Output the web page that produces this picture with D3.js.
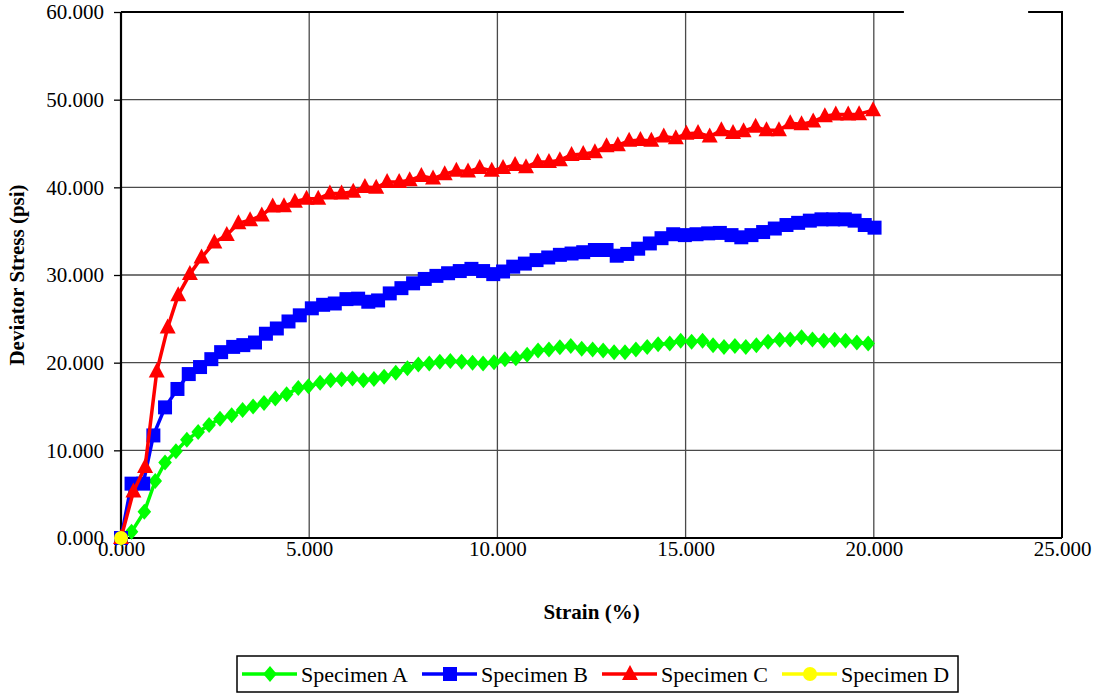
<!DOCTYPE html>
<html>
<head>
<meta charset="utf-8">
<script src="https://cdn.jsdelivr.net/npm/d3@7"></script>
<style>
  body { margin: 0; background: #fff; }
  text { font-family: "Liberation Serif", "Times New Roman", serif; }
</style>
</head>
<body>
<div id="chart"></div>
<script>
(function() {
  // values
  var strainA = [0, 0.28, 0.62, 0.91, 1.17, 1.46, 1.75, 2.05, 2.34, 2.63, 2.94, 3.23, 3.51, 3.80, 4.10, 4.40, 4.71, 4.98, 5.29, 5.57, 5.86, 6.15, 6.44, 6.72, 6.99, 7.30, 7.61, 7.90, 8.19, 8.47, 8.75, 9.05, 9.34, 9.62, 9.91, 10.20, 10.49, 10.79, 11.08, 11.37, 11.66, 11.95, 12.24, 12.53, 12.81, 13.10, 13.39, 13.68, 13.98, 14.27, 14.58, 14.87, 15.16, 15.45, 15.73, 16.02, 16.31, 16.60, 16.88, 17.19, 17.50, 17.78, 18.08, 18.37, 18.67, 18.96, 19.25, 19.55, 19.85]
  var stressA = [0, 0.7, 3.0, 6.5, 8.6, 9.9, 11.2, 12.1, 12.9, 13.6, 14.0, 14.6, 15.0, 15.4, 15.9, 16.4, 17.1, 17.3, 17.7, 18.0, 18.1, 18.2, 18.0, 18.15, 18.4, 18.85, 19.35, 19.8, 19.9, 20.1, 20.2, 20.1, 20.0, 19.9, 20.05, 20.4, 20.5, 20.9, 21.4, 21.5, 21.75, 21.9, 21.6, 21.5, 21.4, 21.2, 21.2, 21.5, 21.8, 22.1, 22.2, 22.5, 22.4, 22.5, 22.0, 21.8, 21.9, 21.8, 22.0, 22.4, 22.6, 22.65, 22.9, 22.65, 22.5, 22.6, 22.5, 22.3, 22.2]

  var strainB = [0, 0.28, 0.59, 0.86, 1.17, 1.50, 1.80, 2.10, 2.40, 2.66, 2.98, 3.25, 3.56, 3.85, 4.14, 4.45, 4.75, 5.07, 5.37, 5.68, 5.99, 6.30, 6.57, 6.83, 7.14, 7.45, 7.76, 8.07, 8.38, 8.69, 9.00, 9.31, 9.62, 9.89, 10.15, 10.42, 10.73, 11.04, 11.35, 11.66, 11.97, 12.28, 12.59, 12.90, 13.17, 13.45, 13.74, 14.05, 14.36, 14.67, 14.98, 15.29, 15.60, 15.91, 16.22, 16.48, 16.75, 17.06, 17.37, 17.68, 17.99, 18.30, 18.61, 18.92, 19.23, 19.49, 19.76, 20.02]
  var stressB = [0, 6.2, 6.2, 11.7, 14.9, 17.0, 18.7, 19.5, 20.4, 21.2, 21.8, 22.0, 22.3, 23.3, 23.9, 24.7, 25.4, 26.2, 26.6, 26.75, 27.25, 27.3, 26.95, 27.1, 27.9, 28.5, 29.05, 29.55, 29.9, 30.2, 30.45, 30.7, 30.45, 30.1, 30.4, 30.95, 31.3, 31.7, 32.0, 32.3, 32.45, 32.6, 32.85, 32.85, 32.2, 32.4, 33.0, 33.6, 34.2, 34.65, 34.55, 34.65, 34.75, 34.8, 34.55, 34.3, 34.55, 34.9, 35.3, 35.7, 35.95, 36.2, 36.35, 36.35, 36.35, 36.2, 35.7, 35.4]

  var strainC = [0, 0.33, 0.64, 0.95, 1.24, 1.52, 1.83, 2.14, 2.48, 2.81, 3.12, 3.43, 3.74, 4.03, 4.33, 4.62, 4.93, 5.24, 5.55, 5.86, 6.17, 6.48, 6.78, 7.07, 7.39, 7.67, 7.98, 8.29, 8.60, 8.91, 9.22, 9.53, 9.85, 10.15, 10.47, 10.76, 11.07, 11.37, 11.66, 11.97, 12.28, 12.59, 12.90, 13.20, 13.50, 13.80, 14.09, 14.42, 14.74, 15.02, 15.33, 15.64, 15.95, 16.26, 16.54, 16.86, 17.15, 17.48, 17.78, 18.08, 18.39, 18.70, 18.99, 19.32, 19.61, 19.98]
  var stressC = [0, 5.3, 8.1, 19.0, 24.0, 27.7, 30.1, 32.0, 33.7, 34.55, 35.9, 36.25, 36.8, 37.8, 37.85, 38.35, 38.7, 38.7, 39.3, 39.3, 39.5, 40.05, 39.95, 40.6, 40.6, 40.8, 41.3, 41.0, 41.5, 41.9, 41.8, 42.2, 41.9, 42.2, 42.55, 42.3, 42.9, 42.9, 43.1, 43.7, 43.8, 44.0, 44.7, 44.8, 45.3, 45.4, 45.3, 45.8, 45.6, 46.1, 46.2, 45.8, 46.5, 46.2, 46.4, 46.9, 46.5, 46.5, 47.3, 47.2, 47.5, 48.1, 48.3, 48.3, 48.35, 48.8]

  var strainD = [0]
  var stressD = [0]

  var seriesNames = ["Specimen A", "Specimen B", "Specimen C", "Specimen D"]
  var xTicks = [0, 5, 10, 15, 20, 25]
  var yTicks = [0, 10, 20, 30, 40, 50, 60]

  var serif = "'Liberation Serif', 'Times New Roman', serif"

  var margin = {top: 12, right: 37, bottom: 156, left: 121}
  var width = 1099 - margin.left - margin.right,
      height = 694 - margin.top - margin.bottom

  var svg = d3.select("#chart")
      .append("svg")
      .attr("width", 1099)
      .attr("height", 694)
      .attr("font-family", serif)

  var g = svg.append("g")
      .attr("transform", "translate(" + margin.left + "," + margin.top + ")")

  var xPositionScale = d3.scaleLinear().domain([0, 25]).range([0, width])
  var yPositionScale = d3.scaleLinear().domain([0, 60]).range([height, 0])

  // gridlines
  g.append("g")
    .selectAll("line")
    .data(yTicks.slice(1, -1))
    .enter().append("line")
    .attr("x1", 0).attr("x2", width)
    .attr("y1", d => yPositionScale(d)).attr("y2", d => yPositionScale(d))
    .attr("stroke", "#4a4a4a").attr("stroke-width", 1.3)

  g.append("g")
    .selectAll("line")
    .data(xTicks.slice(1, -1))
    .enter().append("line")
    .attr("x1", d => xPositionScale(d)).attr("x2", d => xPositionScale(d))
    .attr("y1", 0).attr("y2", height)
    .attr("stroke", "#4a4a4a").attr("stroke-width", 1.3)

  // frame: right border and the broken top border
  g.append("line")
    .attr("x1", width).attr("x2", width).attr("y1", 0).attr("y2", height)
    .attr("stroke", "#000").attr("stroke-width", 2)
  g.append("line")
    .attr("x1", 0).attr("x2", xPositionScale(20.8)).attr("y1", 0).attr("y2", 0)
    .attr("stroke", "#000").attr("stroke-width", 2)
  g.append("line")
    .attr("x1", xPositionScale(24.1)).attr("x2", width + 1).attr("y1", 0).attr("y2", 0)
    .attr("stroke", "#000").attr("stroke-width", 2)

  // axes
  var yAxis = d3.axisLeft(yPositionScale)
    .tickValues(yTicks)
    .tickSize(7)
    .tickPadding(10)
    .tickFormat(d3.format(".3f"))
  var xAxis = d3.axisBottom(xPositionScale)
    .tickValues(xTicks)
    .tickSize(0)
    .tickPadding(3)
    .tickFormat(d3.format(".3f"))

  var yG = g.append("g").attr("class", "axis y-axis").call(yAxis)
  var xG = g.append("g").attr("class", "axis x-axis")
    .attr("transform", "translate(0," + height + ")")
    .call(xAxis)

  g.selectAll(".axis").attr("font-family", serif)
  g.selectAll(".axis .domain").attr("stroke", "#000").attr("stroke-width", 2.2)
  g.selectAll(".axis .tick line").attr("stroke", "#000").attr("stroke-width", 1.3)
  g.selectAll(".axis text")
    .attr("font-family", serif)
    .attr("font-size", 21)
    .attr("fill", "#000")
  yG.select(".domain").attr("d", "M0,0V" + height)
  xG.select(".domain").attr("d", "M0,0H" + width)

  // axis titles
  svg.append("text")
    .attr("x", margin.left + width / 2)
    .attr("y", 619)
    .attr("text-anchor", "middle")
    .attr("font-family", serif)
    .attr("font-size", 21)
    .attr("font-weight", "bold")
    .text("Strain (%)")

  svg.append("text")
    .attr("transform", "translate(24," + (margin.top + height / 2) + ") rotate(-90)")
    .attr("text-anchor", "middle")
    .attr("font-family", serif)
    .attr("font-size", 21)
    .attr("font-weight", "bold")
    .text("Deviator Stress (psi)")

  // marker shapes
  var diamond = {
    draw: function(ctx, size) {
      ctx.moveTo(0, -8); ctx.lineTo(6.8, 0); ctx.lineTo(0, 8); ctx.lineTo(-6.8, 0); ctx.closePath()
    }
  }
  var square = {
    draw: function(ctx, size) { ctx.rect(-7, -7, 14, 14) }
  }
  var triangle = {
    draw: function(ctx, size) {
      ctx.moveTo(0, -9); ctx.lineTo(8, 6); ctx.lineTo(-8, 6); ctx.closePath()
    }
  }
  var circle = {
    draw: function(ctx, size) { ctx.arc(0, 0, 7, 0, 2 * Math.PI) }
  }

  var series = [
    {name: seriesNames[0], x: strainA, y: stressA, color: "#00ff00", shape: diamond},
    {name: seriesNames[1], x: strainB, y: stressB, color: "#0000ff", shape: square},
    {name: seriesNames[2], x: strainC, y: stressC, color: "#ff0000", shape: triangle},
    {name: seriesNames[3], x: strainD, y: stressD, color: "#ffff00", shape: circle}
  ]

  var line = d3.line()
    .x(d => xPositionScale(d[0]))
    .y(d => yPositionScale(d[1]))

  series.forEach(function(s) {
    var pts = s.x.map((v, i) => [v, s.y[i]])
    g.append("path")
      .datum(pts)
      .attr("d", line)
      .attr("fill", "none")
      .attr("stroke", s.color)
      .attr("stroke-width", 3.5)
      .attr("stroke-linejoin", "round")

    g.append("g")
      .selectAll("path")
      .data(pts)
      .enter().append("path")
      .attr("d", d3.symbol().type(s.shape))
      .attr("transform", d => "translate(" + xPositionScale(d[0]) + "," + yPositionScale(d[1]) + ")")
      .attr("fill", s.color)
  })

  // legend
  var legend = svg.append("g").attr("transform", "translate(237,656)")
  legend.append("rect")
    .attr("x", 0).attr("y", 0).attr("width", 721).attr("height", 36)
    .attr("fill", "#fff").attr("stroke", "#000").attr("stroke-width", 1.5)

  var item = legend.selectAll(".item")
    .data(series)
    .enter().append("g")
    .attr("class", "item")
    .attr("transform", (d, i) => "translate(" + (5 + i * 180) + ",18)")

  item.append("line")
    .attr("x1", 0).attr("x2", 55).attr("y1", 0).attr("y2", 0)
    .attr("stroke", d => d.color).attr("stroke-width", 3.5)
  item.append("path")
    .attr("d", d => d3.symbol().type(d.shape)())
    .attr("transform", "translate(28,0)")
    .attr("fill", d => d.color)
  item.append("text")
    .attr("x", 59)
    .attr("y", 7.5)
    .attr("font-family", serif)
    .attr("font-size", 22)
    .text(d => d.name)
})()
</script>
</body>
</html>
